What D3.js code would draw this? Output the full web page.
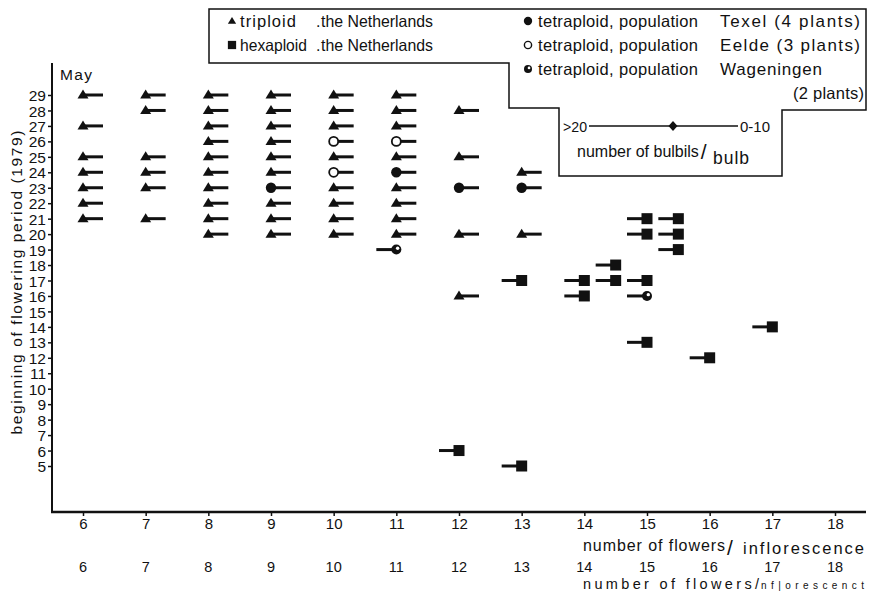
<!DOCTYPE html>
<html>
<head>
<meta charset="utf-8">
<script src="https://cdn.jsdelivr.net/npm/d3@7"></script>
<style>
  body { margin: 0; background: #fff; }
  svg text { font-family: "Liberation Sans Narrow", "Arial Narrow", "Liberation Sans", sans-serif; fill: #111; }
</style>
</head>
<body>
<svg id="chart" width="876" height="591"></svg>
<script>
// Flowers per inflorescence (x), first flowering day in May 1979 (y),
// bulbil class: "low" = 0-10 bulbils/bulb (stalk to the right), "high" = >20 (stalk to the left)
const triploidFlowers = [6,6,6,6,6,6,6, 7,7,7,7,7,7, 8,8,8,8,8,8,8,8,8,8, 9,9,9,9,9,9,9,9,9,
  10,10,10,10,10,10,10,10, 11,11,11,11,11,11,11,11, 12,12,12,12, 13,13];
const triploidDays = [29,27,25,24,23,22,21, 29,28,25,24,23,21, 29,28,27,26,25,24,23,22,21,20,
  29,28,27,26,25,24,22,21,20, 29,28,27,25,23,22,21,20, 29,28,27,25,23,22,21,20, 28,25,20,16, 24,20];
const hexaploidFlowers = [12,13,13,14,14,14.5,14.5,15,15,15,15,15.5,15.5,15.5,16,17];
const hexaploidDays    = [6,5,17,17,16,18,17,21,20,17,13,21,20,19,12,14];
const texelFlowers = [9,11,12,13];
const texelDays    = [23,24,23,23];
const eeldeFlowers = [10,10,11];
const eeldeDays    = [26,24,26];
const wageningenFlowers = [11,15];
const wageningenDays    = [19,16];

const xTickValues = [6,7,8,9,10,11,12,13,14,15,16,17,18];
const yTickValues = d3.range(5, 30);

const series = [
  { key: "triploid",   shape: "triangle", flowers: triploidFlowers,   days: triploidDays,   bulbils: "low"  },
  { key: "hexaploid",  shape: "square",   flowers: hexaploidFlowers,  days: hexaploidDays,  bulbils: "high" },
  { key: "texel",      shape: "dot",      flowers: texelFlowers,      days: texelDays,      bulbils: "low"  },
  { key: "eelde",      shape: "ring",     flowers: eeldeFlowers,      days: eeldeDays,      bulbils: "low"  },
  { key: "wageningen", shape: "half",     flowers: wageningenFlowers, days: wageningenDays, bulbils: "high" }
];

const svg = d3.select("#chart");
const ink = "#111";

const x = d3.scaleLinear().domain([6, 18]).range([83, 835]);
const y = d3.scaleLinear().domain([5, 29]).range([466, 95]);
const axisY = 512, axisX = 52;

// text helper: fit a label to a given width, condensing glyphs when too wide
// and opening up the letter spacing when too narrow
function label(parent, px, py, str, size, width, anchor) {
  const t = parent.append("text").attr("x", px).attr("y", py)
    .style("font-size", size + "px").text(str);
  if (anchor) t.attr("text-anchor", anchor);
  if (width) {
    const natural = t.node().getComputedTextLength();
    t.attr("textLength", width)
     .attr("lengthAdjust", width < natural ? "spacingAndGlyphs" : "spacing");
  }
  return t;
}

// ---- axes ----
const gy = svg.append("g").attr("transform", `translate(${axisX},0)`)
  .call(d3.axisLeft(y).tickValues(yTickValues).tickSize(4).tickPadding(2).tickFormat(d3.format("d")));
gy.select(".domain").remove();
gy.selectAll("line").attr("stroke", ink).attr("stroke-width", 1.5);
gy.selectAll("text").style("font-size", "15.5px").attr("dy", "0.36em");
svg.append("line").attr("x1", axisX).attr("x2", axisX).attr("y1", 63).attr("y2", axisY + 1)
  .attr("stroke", ink).attr("stroke-width", 2);

const gx = svg.append("g").attr("transform", `translate(0,${axisY})`)
  .call(d3.axisBottom(x).tickValues(xTickValues).tickSize(4).tickPadding(2).tickFormat(d3.format("d")));
gx.select(".domain").remove();
gx.selectAll("line").attr("stroke", ink).attr("stroke-width", 1.5);
gx.selectAll("text").style("font-size", "15px");
svg.append("line").attr("x1", axisX - 1).attr("x2", 866).attr("y1", axisY).attr("y2", axisY)
  .attr("stroke", ink).attr("stroke-width", 2.5);

label(svg, 76, 80, "May", 15.5, 32, "middle");

label(svg, 0, 0, "beginning of flowering period (1979)", 15.5, 304, "middle")
  .attr("transform", `translate(22,${(y(29) + y(5)) / 2 + 2}) rotate(-90)`);

// x title with slashed unit
label(svg, 583, 551, "number of flowers", 16, 142);
label(svg, 727, 555, "/", 21);
label(svg, 743, 554, "inflorescence", 16.5, 121);

// repeated scale row below the chart
svg.append("g").selectAll("text").data(xTickValues).join("text")
  .attr("x", d => x(d)).attr("y", 572).attr("text-anchor", "middle")
  .style("font-size", "14.5px").text(d => d);
label(svg, 583, 589, "number of flowers/", 14.5, 176);
label(svg, 761, 589, "nf|orescenct", 10, 103);

// ---- markers ----
function drawMarker(g, shape) {
  if (shape === "triangle") {
    g.append("path").attr("d", "M-5.5,3.5 L0,-5.5 L5.5,3.5 Z").attr("fill", ink);
  } else if (shape === "square") {
    g.append("rect").attr("x", -5.5).attr("y", -5.5).attr("width", 11).attr("height", 11).attr("fill", ink);
  } else if (shape === "dot") {
    g.append("circle").attr("r", 5.2).attr("fill", ink);
  } else if (shape === "ring") {
    g.append("circle").attr("r", 4.5).attr("fill", "#fff").attr("stroke", ink).attr("stroke-width", 1.8);
  } else if (shape === "half") {
    g.append("circle").attr("r", 5).attr("fill", ink);
    g.append("circle").attr("cx", 1.3).attr("cy", -1.3).attr("r", 1.7).attr("fill", "#fff");
  }
}

const stalk = 20;
series.forEach(s => {
  const pts = s.flowers.map((f, i) => ({ f, d: s.days[i] }));
  const g = svg.append("g").attr("class", s.key);
  g.selectAll("g").data(pts).join("g")
    .attr("transform", p => `translate(${x(p.f)},${y(p.d)})`)
    .each(function () {
      const m = d3.select(this);
      m.append("line")
        .attr("x1", 0).attr("x2", s.bulbils === "low" ? stalk : -stalk)
        .attr("y1", 0).attr("y2", 0)
        .attr("stroke", ink).attr("stroke-width", 3);
      drawMarker(m, s.shape);
    });
});

// ---- legend ----
const lg = svg.append("g");
lg.append("path")
  .attr("d", "M209,9 H866 V110 H782 V176 H559 V108 H509 V63 H209 Z")
  .attr("fill", "#fff").attr("stroke", ink).attr("stroke-width", 1.5);

const legendRows = [
  { shape: "triangle", yy: 21, label: "triploid",  w: 56 },
  { shape: "square",   yy: 45, label: "hexaploid", w: 67 }
];
legendRows.forEach(r => {
  drawMarker(lg.append("g").attr("transform", `translate(232,${r.yy}) scale(0.75)`), r.shape);
  label(lg, 240, r.yy + 6, r.label, 16.5, r.w);
  label(lg, 316, r.yy + 6, ".", 16);
  label(lg, 321, r.yy + 6, "the Netherlands", 16.5, 112);
});
const tetraRows = [
  { shape: "dot",  yy: 21, place: "Texel (4 plants)", w: 140 },
  { shape: "ring", yy: 45, place: "Eelde (3 plants)", w: 140 },
  { shape: "half", yy: 69, place: "Wageningen",       w: 102 }
];
tetraRows.forEach(r => {
  drawMarker(lg.append("g").attr("transform", `translate(528,${r.yy}) scale(0.8)`), r.shape);
  label(lg, 538, r.yy + 6, "tetraploid, population", 16.5, 160);
  label(lg, 720, r.yy + 6, r.place, 17, r.w);
});
label(lg, 864, 99, "(2 plants)", 16.5, 71, "end");

// bulbil key
label(lg, 563, 132, ">20", 15, 24);
lg.append("line").attr("x1", 589).attr("x2", 738).attr("y1", 126).attr("y2", 126)
  .attr("stroke", ink).attr("stroke-width", 1.5);
lg.append("path").attr("d", "M673,121 L677.5,126 L673,131 L668.5,126 Z").attr("fill", ink);
label(lg, 740, 132, "0-10", 15, 30);
const bk = lg.append("text").attr("x", 577).attr("y", 157).style("font-size", "16px");
bk.append("tspan").text("number of bulbils");
bk.append("tspan").attr("dx", 2).attr("dy", 2).style("font-size", "21px").text("/");
label(lg, 713, 164, "bulb", 17.5, 36);
</script>
</body>
</html>
